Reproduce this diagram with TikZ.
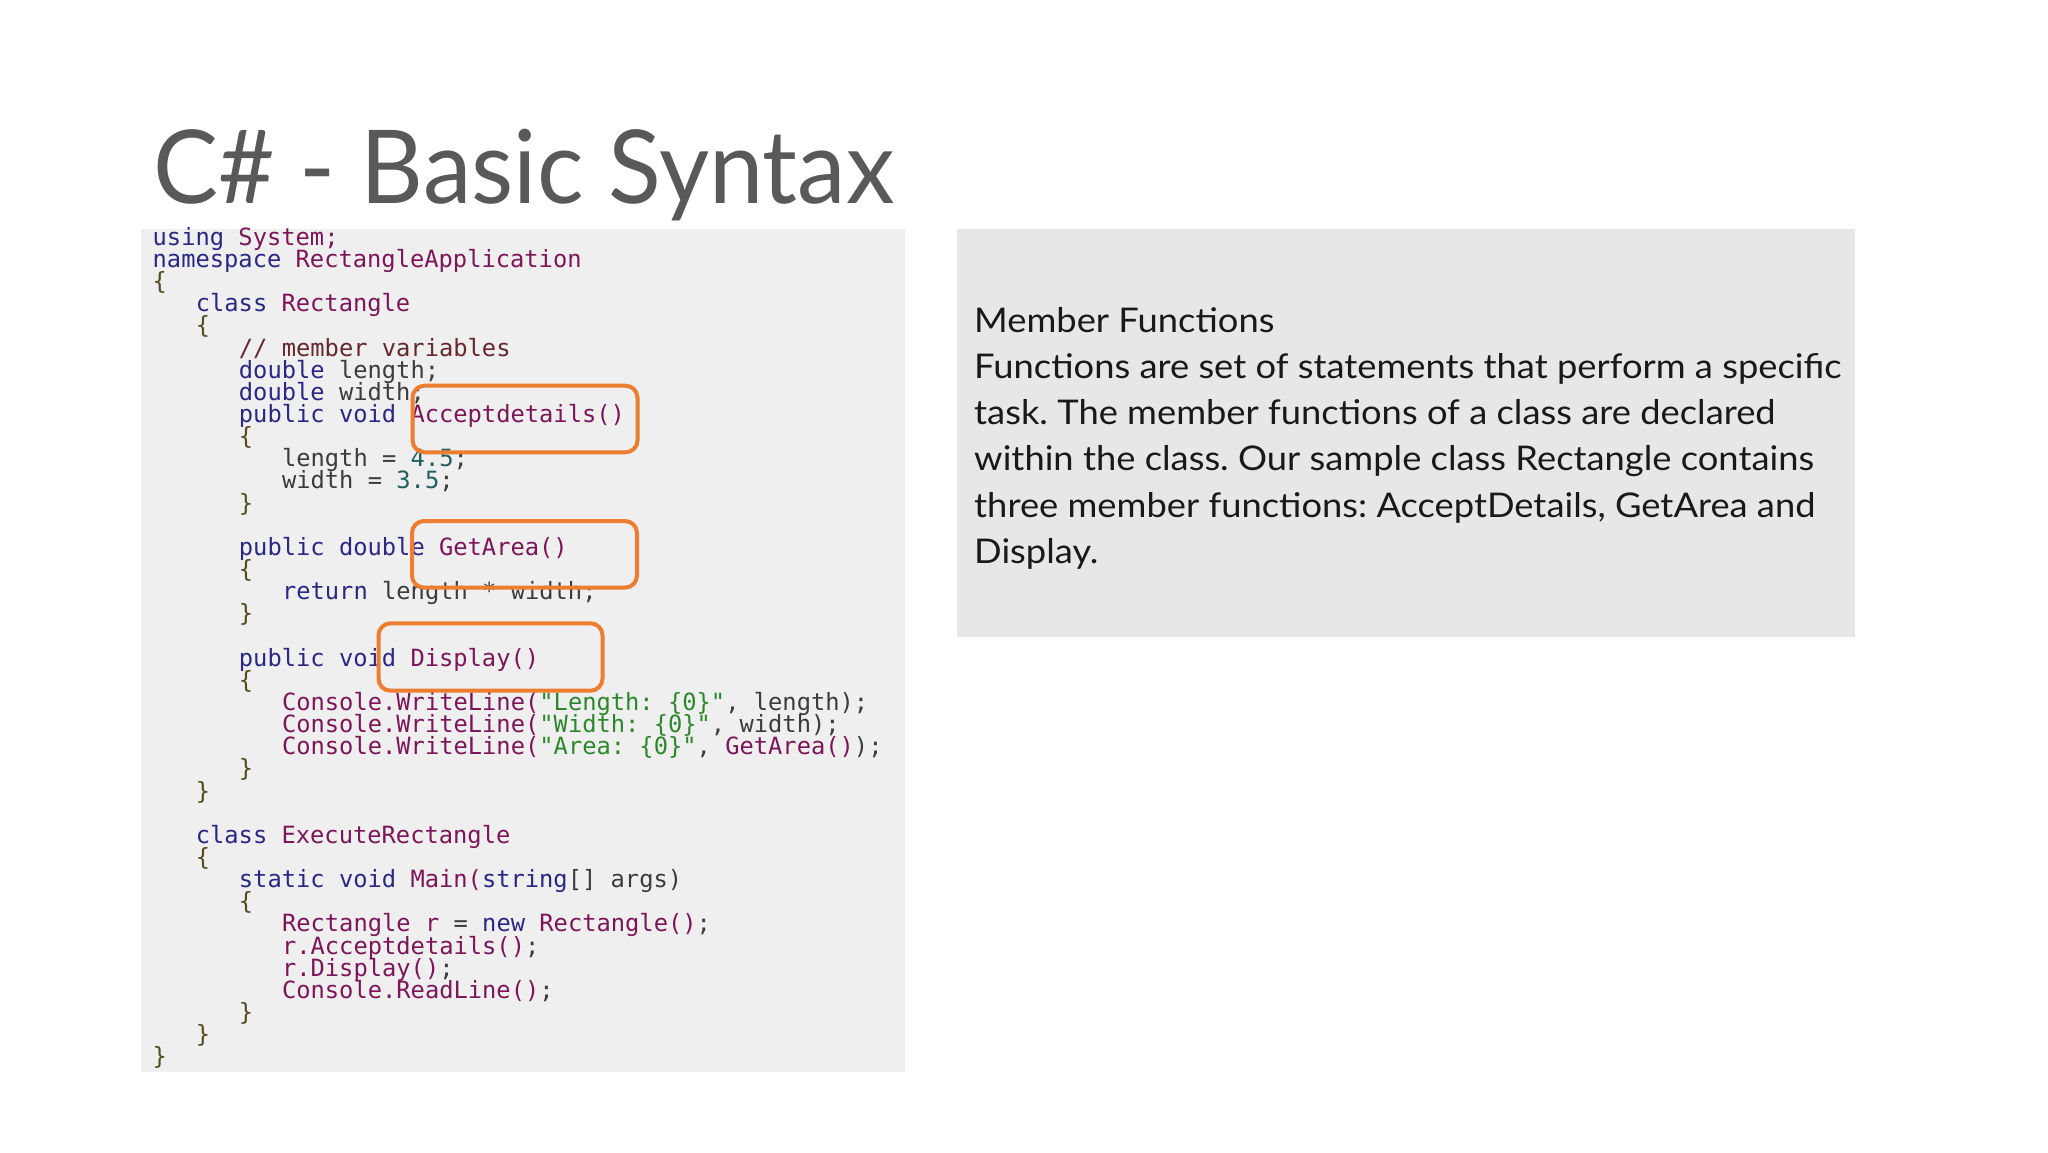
\documentclass[tikz,border=0pt]{standalone}
\usepackage{fontspec}
\setmainfont{Lato}
\newfontfamily\codefont{DejaVu Sans Mono}
\frenchspacing
\definecolor{kwc}{RGB}{42,40,130}
\definecolor{idc}{RGB}{125,22,88}
\definecolor{plc}{RGB}{60,60,60}
\definecolor{brc}{RGB}{85,75,35}
\definecolor{stc}{RGB}{45,135,45}
\definecolor{nmc}{RGB}{35,95,95}
\definecolor{cmc}{RGB}{100,40,45}
\definecolor{codebg}{RGB}{239,239,239}
\definecolor{notebg}{RGB}{231,230,232}
\definecolor{hlc}{RGB}{237,125,49}
\definecolor{titlec}{RGB}{89,89,89}
\newcommand\kw[1]{\textcolor{kwc}{#1}}
\newcommand\idn[1]{\textcolor{idc}{#1}}
\newcommand\brc[1]{\textcolor{brc}{#1}}
\newcommand\stg[1]{\textcolor{stc}{#1}}
\newcommand\nmb[1]{\textcolor{nmc}{#1}}
\newcommand\cmt[1]{\textcolor{cmc}{#1}}
\newcommand\codeln[3]{\node[codetxt] (c#1) at ({152.5+#2*14.37},{245.3+(#1-1)*22.15}) {#3};}
\newcommand\bodyln[1]{\scalebox{1.068}[1]{#1}}
\begin{document}
\begin{tikzpicture}[x=1pt,y=-1pt,
  codetxt/.style={anchor=base west,inner sep=0pt,text=plc,font=\codefont\fontsize{23.75}{24}\selectfont},
  panel/.style={anchor=north west,inner sep=0pt,outer sep=0pt},
  hl/.style={draw=hlc,line width=4pt,rounded corners=12pt,inner sep=0pt,outer sep=0pt},
  bodytxt/.style={anchor=base west,inner sep=0pt,text=black!90,font=\fontsize{34}{34}\selectfont}]
\useasboundingbox (0,0) rectangle (2048,1152);
\fill[white] (0,0) rectangle (2048,1152);
% title
\node[anchor=base west,inner sep=0pt,text=titlec,font=\fontsize{102}{102}\selectfont] (title) at (153,203.3) {\scalebox{0.955}[1]{C\# - Basic Syntax}};
% panels
\node[panel,fill=codebg,minimum width=764pt,minimum height=843pt] (codepanel) at (141,229) {};
\node[panel,fill=notebg,minimum width=898.5pt,minimum height=407.4pt] (notepanel) at (956.5,229.3) {};
% code
\codeln{1}{0}{\kw{using} \idn{System;}}
\codeln{2}{0}{\kw{namespace} \idn{RectangleApplication}}
\codeln{3}{0}{\brc{\{}}
\codeln{4}{3}{\kw{class} \idn{Rectangle}}
\codeln{5}{3}{\brc{\{}}
\codeln{6}{6}{\cmt{// member variables}}
\codeln{7}{6}{\kw{double} length;}
\codeln{8}{6}{\kw{double} width;}
\codeln{9}{6}{\kw{public} \kw{void} \idn{Acceptdetails()}}
\codeln{10}{6}{\brc{\{}}
\codeln{11}{9}{length = \nmb{4.5};}
\codeln{12}{9}{width = \nmb{3.5};}
\codeln{13}{6}{\brc{\}}}
\codeln{15}{6}{\kw{public} \kw{double} \idn{GetArea()}}
\codeln{16}{6}{\brc{\{}}
\codeln{17}{9}{\kw{return} length * width;}
\codeln{18}{6}{\brc{\}}}
\codeln{20}{6}{\kw{public} \kw{void} \idn{Display()}}
\codeln{21}{6}{\brc{\{}}
\codeln{22}{9}{\idn{Console.WriteLine(}\stg{"Length: \{0\}"}, length);}
\codeln{23}{9}{\idn{Console.WriteLine(}\stg{"Width: \{0\}"}, width);}
\codeln{24}{9}{\idn{Console.WriteLine(}\stg{"Area: \{0\}"}, \idn{GetArea()});}
\codeln{25}{6}{\brc{\}}}
\codeln{26}{3}{\brc{\}}}
\codeln{28}{3}{\kw{class} \idn{ExecuteRectangle}}
\codeln{29}{3}{\brc{\{}}
\codeln{30}{6}{\kw{static} \kw{void} \idn{Main(}\kw{string}[] args)}
\codeln{31}{6}{\brc{\{}}
\codeln{32}{9}{\idn{Rectangle} \idn{r} = \kw{new} \idn{Rectangle()};}
\codeln{33}{9}{\idn{r.Acceptdetails()};}
\codeln{34}{9}{\idn{r.Display()};}
\codeln{35}{9}{\idn{Console.ReadLine()};}
\codeln{36}{6}{\brc{\}}}
\codeln{37}{3}{\brc{\}}}
\codeln{38}{0}{\brc{\}}}
% highlight boxes
\node[hl,minimum width=225pt,minimum height=66.6pt] (hl1) at (525,419) {};
\node[hl,minimum width=225pt,minimum height=66.6pt] (hl2) at (524.5,554.3) {};
\node[hl,minimum width=224pt,minimum height=67.4pt] (hl3) at (490.5,657) {};
% note text
\node[bodytxt] (n0) at (974,332) {\bodyln{Member Functions}};
\node[bodytxt] (n1) at (974,378.3) {\bodyln{Functions are set of statements that perform a specific}};
\node[bodytxt] (n2) at (974,424.6) {\bodyln{task. The member functions of a class are declared}};
\node[bodytxt] (n3) at (974,470.9) {\bodyln{within the class. Our sample class Rectangle contains}};
\node[bodytxt] (n4) at (974,517.2) {\bodyln{three member functions: AcceptDetails, GetArea and}};
\node[bodytxt] (n5) at (974,563.5) {\bodyln{Display.}};
\end{tikzpicture}
\end{document}
